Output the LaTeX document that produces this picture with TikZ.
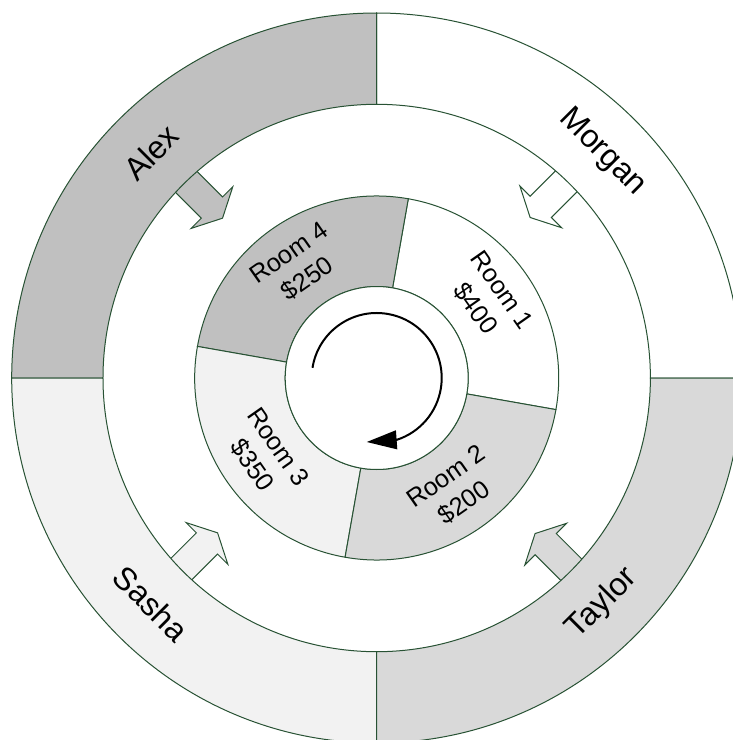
\documentclass[tikz,border=0pt]{standalone}
\definecolor{ringgreen}{RGB}{40, 82, 52}
\definecolor{alexgray}{RGB}{192, 192, 192}
\definecolor{taylorgray}{RGB}{217, 217, 217}
\definecolor{sashagray}{RGB}{242, 242, 242}
\usepackage{fontspec}
\setmainfont{Liberation Sans}
\usepackage{tikz}
\usetikzlibrary{arrows.meta, positioning, calc}
\tikzset{
  sectorline/.style={draw=ringgreen, line width=0.75pt},
  pointer/.style={draw=ringgreen, line width=0.75pt, line join=miter},
  guestlbl/.style={font=\fontsize{24}{29}\selectfont, inner sep=0pt},
  roomlbl/.style={font=\fontsize{19}{24}\selectfont, align=center, inner sep=0pt},
  spinarrow/.style={-{Triangle[length=22.5pt, width=14pt]}, line width=1.5pt},
}
\begin{document}
\begin{tikzpicture}[x=0.75pt, y=0.75pt]
  \useasboundingbox (-376.7,-362) rectangle (356.3,378);
  \clip (-376.7,-362) rectangle (356.3,378);
  % block arrows, tails hidden under the outer ring
  \foreach \a/\off/\c in {135/-4/alexgray, 45/5/white, -45/2/taylorgray, 225/-3/sashagray}
    \draw[pointer, fill=\c, rotate=\a] (290,{\off+15}) -- (237,{\off+15}) -- (237,{\off+29.5})
      -- (222,\off) -- (237,{\off-29.5}) -- (237,{\off-15}) -- (290,{\off-15}) -- cycle;
  % guests
  \foreach \a/\c in {0/white, 90/alexgray, 180/sashagray, 270/taylorgray}
    \draw[sectorline, fill=\c] (\a:273.7) -- (\a:365) arc[start angle=\a, end angle=\a+90, radius=365]
      -- (\a+90:273.7) arc[start angle=\a+90, end angle=\a, radius=273.7] -- cycle;
  % rooms
  \foreach \a/\c in {-10/white, 80/alexgray, 170/sashagray, 260/taylorgray}
    \draw[sectorline, fill=\c] (\a:91.5) -- (\a:182) arc[start angle=\a, end angle=\a+90, radius=182]
      -- (\a+90:91.5) arc[start angle=\a+90, end angle=\a, radius=91.5] -- cycle;
  \draw[sectorline, fill=white] (0,0) circle[radius=91.5];
  \draw[spinarrow] (171:65) arc[start angle=171, end angle=-72, radius=65] -- (-10,-64);
  \node[guestlbl, rotate=45] (alex) at (135:319) {Alex};
  \node[guestlbl, rotate=-45] (morgan) at (45:319) {Morgan};
  \node[guestlbl, rotate=45] (taylor) at (-45:319) {Taylor};
  \node[guestlbl, rotate=-45] (sasha) at (225:319) {Sasha};
  \node[roomlbl, rotate=-55] (room1) at (35:136.5) {Room 1\\\$400};
  \node[roomlbl, rotate=35] (room2) at (-55:136.5) {Room 2\\\$200};
  \node[roomlbl, rotate=-55] (room3) at (215:136.5) {Room 3\\\$350};
  \node[roomlbl, rotate=35] (room4) at (125:136.5) {Room 4\\\$250};
\end{tikzpicture}
\end{document}
